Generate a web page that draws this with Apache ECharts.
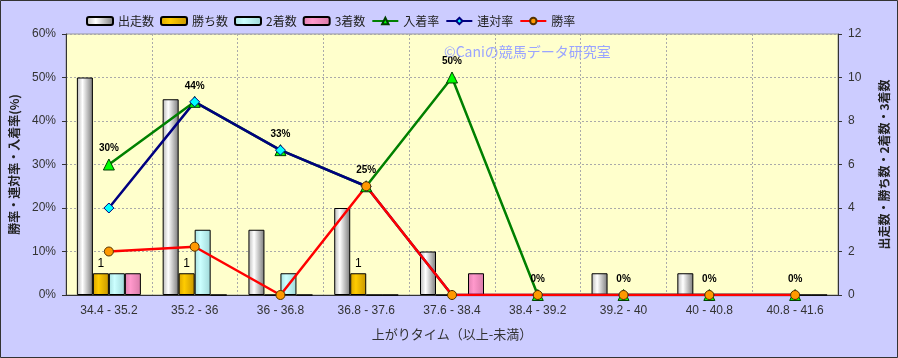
<!DOCTYPE html>
<html><head><meta charset="utf-8">
<script src="https://cdn.jsdelivr.net/npm/echarts@6/dist/echarts.min.js"></script>
<style>html,body{margin:0;padding:0;background:#ccccff;}#c{width:898px;height:358px;}</style>
</head><body><div id="c"></div>
<script>
const categories = ['34.4 - 35.2','35.2 - 36','36 - 36.8','36.8 - 37.6','37.6 - 38.4','38.4 - 39.2','39.2 - 40','40 - 40.8','40.8 - 41.6'];
const runs   = [10, 9, 3, 4, 2, 0, 1, 1, 0];
const wins   = [1, 1, 0, 1, 0, 0, 0, 0, 0];
const second = [1, 3, 1, 0, 0, 0, 0, 0, 0];
const third  = [1, 0, 0, 0, 1, 0, 0, 0, 0];
const top3Rate  = [30, 44.4, 33.3, 25, 50, 0, 0, 0, 0];
const rentaiRate = [20, 44.4, 33.3, 25, 0, 0, 0, 0, 0];
const winRate   = [10, 11.1, 0, 25, 0, 0, 0, 0, 0];
const leftTicks = [0, 10, 20, 30, 40, 50, 60];
const rightTicks = [0, 2, 4, 6, 8, 10, 12];

const FONT = "'Liberation Sans','Noto Sans CJK JP',sans-serif";
const JP = "'Noto Sans CJK JP',sans-serif";
function grad(edgeL, mid, edgeR){
  return new echarts.graphic.LinearGradient(0,0,1,0,[
    {offset:0,color:edgeL},{offset:0.35,color:mid},{offset:1,color:edgeR}]);
}
const barBase = {type:'bar', yAxisIndex:1, barWidth:16, barGap:'0%'};
const chart = echarts.init(document.getElementById('c'));
chart.setOption({
  backgroundColor:'#ccccff',
  animation:false,
  textStyle:{fontFamily:FONT},
  graphic:[
    {type:'rect', shape:{x:0.5,y:0.5,width:897,height:357}, style:{fill:'none',stroke:'#333',lineWidth:1}, silent:true, z:100},
    {type:'text', left:444, top:45, style:{text:'©Caniの競馬データ研究室', fill:'#9aa4ff', font:"14px "+JP}, z:50}
  ],
  legend:{left:81, top:10, itemWidth:26, itemHeight:8, itemGap:6,
    textStyle:{fontSize:12, color:'#222', fontFamily:JP},
    data:['出走数','勝ち数','2着数','3着数','入着率','連対率','勝率']},
  grid:{left:65, right:54, top:34, bottom:63, show:true, backgroundColor:'#ffffcc', borderColor:'#999', borderWidth:1},
  xAxis:{type:'category', data:categories,
    axisLine:{lineStyle:{color:'#333'}}, axisTick:{show:false},
    axisLabel:{color:'#333', fontSize:12, margin:10, interval:0},
    splitLine:{show:true, interval:0, lineStyle:{color:'#aaa', type:[2,2]}},
    name:'上がりタイム（以上-未満）', nameLocation:'middle', nameGap:33,
    nameTextStyle:{color:'#333', fontSize:13, fontFamily:JP}},
  yAxis:[
    {type:'value', min:leftTicks[0], max:leftTicks[leftTicks.length-1], interval:10,
     axisLine:{show:true, lineStyle:{color:'#333'}}, axisTick:{show:true, length:4, lineStyle:{color:'#333'}},
     axisLabel:{color:'#333', fontSize:12, margin:10, formatter:'{value}%'},
     splitLine:{show:true, lineStyle:{color:'#aaa', type:[2,2]}},
     name:'勝率・連対率・入着率(%)', nameLocation:'middle', nameGap:46,
     nameTextStyle:{color:'#222', fontSize:12, fontWeight:'bold', fontFamily:JP}},
    {type:'value', min:rightTicks[0], max:rightTicks[rightTicks.length-1], interval:2, position:'right',
     axisLine:{show:true, lineStyle:{color:'#333'}}, axisTick:{show:true, length:4, lineStyle:{color:'#333'}},
     axisLabel:{color:'#333', fontSize:12, margin:10},
     splitLine:{show:false},
     name:'出走数・勝ち数・2着数・3着数', nameLocation:'middle', nameGap:40,
     nameTextStyle:{color:'#222', fontSize:12, fontWeight:'bold', fontFamily:JP}}
  ],
  series:[
    Object.assign({}, barBase, {name:'出走数', data:runs, itemStyle:{borderColor:'#000',borderWidth:1,color:grad('#b8b8b8','#ffffff','#7a7a7a')}}),
    Object.assign({}, barBase, {name:'勝ち数', data:wins, itemStyle:{borderColor:'#000',borderWidth:1,color:grad('#d9a400','#ffcc00','#c89600')},
      label:{show:true, position:'top', color:'#000', fontSize:12, distance:4, formatter:p=>p.value>0?p.value:''}}),
    Object.assign({}, barBase, {name:'2着数', data:second, itemStyle:{borderColor:'#000',borderWidth:1,color:grad('#a8e0e0','#ccffff','#9fd8d8')}}),
    Object.assign({}, barBase, {name:'3着数', data:third, itemStyle:{borderColor:'#000',borderWidth:1,color:grad('#e080b0','#ff99cc','#d87aa8')}}),
    {name:'入着率', type:'line', yAxisIndex:0, data:top3Rate, symbol:'triangle', symbolSize:11,
      lineStyle:{color:'#008000', width:2.5}, itemStyle:{color:'#00ff00', borderColor:'#004000', borderWidth:1},
      label:{show:true, position:'top', distance:5, color:'#000', fontSize:10, fontWeight:'bold', formatter:p=>Math.round(p.value)+'%'}},
    {name:'連対率', type:'line', yAxisIndex:0, data:rentaiRate, symbol:'diamond', symbolSize:10,
      lineStyle:{color:'#000080', width:2.5}, itemStyle:{color:'#00ffff', borderColor:'#000080', borderWidth:1}},
    {name:'勝率', type:'line', yAxisIndex:0, data:winRate, symbol:'circle', symbolSize:9,
      lineStyle:{color:'#ff0000', width:2.5}, itemStyle:{color:'#ff9900', borderColor:'#553300', borderWidth:1}}
  ]
});
</script></body></html>
